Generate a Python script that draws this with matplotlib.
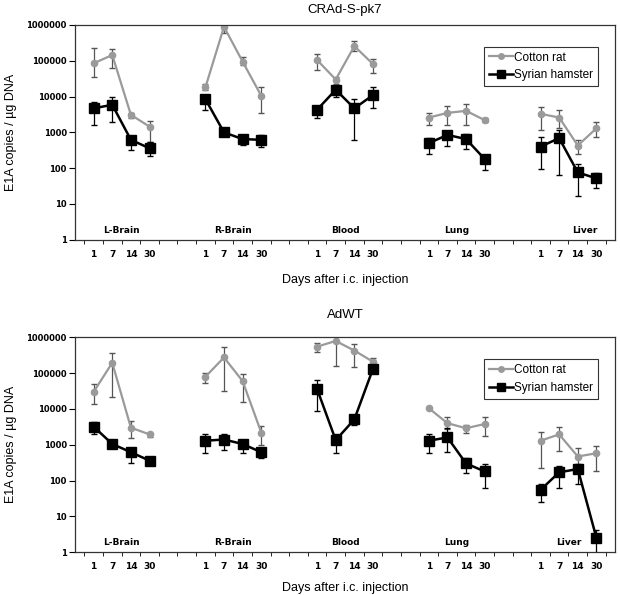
import numpy as np
import matplotlib.pyplot as plt
from matplotlib import ticker, transforms
from matplotlib.lines import Line2D

plt.rcParams['font.family'] = ['Liberation Sans', 'DejaVu Sans']

# categories
tissues = ['L-Brain', 'R-Brain', 'Blood', 'Lung', 'Liver']
days = ['1', '7', '14', '30']
titles = ['CRAd-S-pk7', 'AdWT']

# CRAd-S-pk7 (mean, lower end, upper end of error bar)
cr1 = [85000, 145000, 3100, 1450, 18000, 890000, 95000, 10500, 105000, 30000,
       257000, 81000, 2600, 3500, 4000, 2200, 3300, 2600, 430, 1300]
cr1_lo = [36000, 62000, 2500, 550, 15500, 589000, 76000, 3500, 54000, 23000,
          182000, 45000, 1600, 1600, 1600, 2000, 1200, 1300, 250, 720]
cr1_hi = [234000, 209000, 3500, 2100, 23000, 1120000, 126000, 18000, 155000, 35000,
          363000, 112000, 3400, 5500, 6200, 2500, 5000, 4100, 620, 1900]
sh1 = [4700, 5900, 620, 360, 8500, 1000, 650, 620, 4300, 15500,
       4700, 11000, 500, 850, 650, 180, 400, 690, 76, 52]
sh1_lo = [1600, 2000, 320, 220, 4300, 850, 450, 400, 2600, 9500,
          620, 4700, 250, 430, 340, 89, 93, 63, 17, 28]
sh1_hi = [7200, 9500, 810, 550, 11000, 1200, 790, 850, 5500, 20000,
          8500, 18000, 690, 1100, 910, 230, 720, 1200, 130, 72]

# AdWT
cr2 = [30000, 195000, 3000, 1950, 79000, 275000, 60000, 2200, 550000, 794000,
       427000, 209000, 10500, 4000, 2900, 3800, 1300, 1950, 470, 580]
cr2_lo = [13500, 21000, 1500, 1700, 52000, 32000, 16000, 1000, 380000, 162000,
          151000, 162000, 10500, 2750, 2100, 1800, 230, 650, 160, 190]
cr2_hi = [49000, 372000, 4500, 2200, 102000, 525000, 95000, 3400, 708000, 1200000,
          646000, 269000, 10500, 5900, 3500, 5900, 2300, 3100, 830, 930]
sh2 = [3200, 1050, 620, 360, 1300, 1400, 1050, 620, 36000, 1350,
       5100, 132000, 1300, 1600, 300, 180, 55, 170, 210, 2.5]
sh2_lo = [1950, 950, 300, 300, 580, 720, 580, 440, 8500, 580,
          3500, 105000, 580, 620, 160, 63, 25, 63, 79, 0.3]
sh2_hi = [4200, 1150, 830, 420, 1950, 1950, 1400, 720, 65000, 1950,
          6500, 162000, 1950, 2900, 420, 290, 79, 260, 290, 4.2]

# x slots: 4 days per tissue, 2 empty slots between tissues
pos = np.array([g * 6 + k + 1 for g in range(len(tissues)) for k in range(len(days))])

fig = plt.figure(figsize=(6.2, 5.95), dpi=100)
ax1 = fig.add_axes([0.121, 0.597, 0.871, 0.361])
ax2 = fig.add_axes([0.121, 0.072, 0.871, 0.361])

gray = '#9a9a9a'


def panel(ax, title, cr, cr_lo, cr_hi, sh, sh_lo, sh_hi, label_shift, tpad, xpad):
    cr, cr_lo, cr_hi = map(np.array, (cr, cr_lo, cr_hi))
    sh, sh_lo, sh_hi = map(np.array, (sh, sh_lo, sh_hi))
    for g in range(len(tissues)):
        s = slice(4 * g, 4 * g + 4)
        ax.errorbar(pos[s], cr[s], yerr=[cr[s] - cr_lo[s], cr_hi[s] - cr[s]],
                    color=gray, ecolor='#555555', elinewidth=0.9, capsize=2.5,
                    marker='o', markersize=4.5, lw=1.6, zorder=2)
        ax.errorbar(pos[s], sh[s], yerr=[sh[s] - sh_lo[s], sh_hi[s] - sh[s]],
                    color='black', ecolor='black', elinewidth=0.9, capsize=2.5,
                    marker='s', markersize=6.5, lw=1.8, zorder=3)

    ax.set_yscale('log')
    ax.set_ylim(1, 1e6)
    ax.set_xlim(0, 29)
    ax.yaxis.set_major_locator(ticker.FixedLocator([10.0 ** i for i in range(7)]))
    ax.yaxis.set_major_formatter(ticker.FuncFormatter(lambda v, p: '%d' % round(v)))
    ax.yaxis.set_minor_locator(ticker.NullLocator())
    ax.set_xticks(pos)
    ax.set_xticklabels(days * len(tissues))
    ax.set_xticks(np.arange(0.5, 29, 1), minor=True)
    ax.tick_params(axis='x', which='major', length=0, pad=7, labelsize=6.5)
    ax.tick_params(axis='x', which='minor', length=3, direction='out')
    ax.tick_params(axis='y', length=4, labelsize=6, pad=2)
    for lab in ax.get_xticklabels() + ax.get_yticklabels():
        lab.set_family('DejaVu Sans')
        lab.set_fontweight('bold')
    for sp in ax.spines.values():
        sp.set_linewidth(0.9)
        sp.set_color('#333333')

    trans = transforms.blended_transform_factory(ax.transData, ax.transAxes)
    for g, name in enumerate(tissues):
        ax.text(g * 6 + 2.5 + label_shift[g], 0.045, name, transform=trans,
                ha='center', va='center', fontsize=6.5, fontweight='bold',
                family='DejaVu Sans')

    ax.set_title(title, fontsize=9.5, pad=tpad)
    ax.set_ylabel('E1A copies / µg DNA', fontsize=9, labelpad=7)
    ax.set_xlabel('Days after i.c. injection', fontsize=9, labelpad=xpad)
    handles = [Line2D([], [], color=gray, marker='o', markersize=4, lw=1.6),
               Line2D([], [], color='black', marker='s', markersize=5.5, lw=1.8)]
    leg = ax.legend(handles, ['Cotton rat', 'Syrian hamster'],
                    loc='upper right', bbox_to_anchor=(0.975, 0.915), fontsize=8.5,
                    frameon=True, fancybox=False, edgecolor='black',
                    handlelength=2.0, handletextpad=0.15, borderpad=0.4,
                    labelspacing=0.5, borderaxespad=0.3)
    leg.get_frame().set_linewidth(0.8)


panel(ax1, titles[0], cr1, cr1_lo, cr1_hi, sh1, sh1_lo, sh1_hi,
      [0, 0, 0, 0, 0.9], 8.5, 11.5)
panel(ax2, titles[1], cr2, cr2_lo, cr2_hi, sh2, sh2_lo, sh2_hi,
      [0, 0, 0, 0, 0], 14, 8)

fig.savefig('out.png', dpi=100)
